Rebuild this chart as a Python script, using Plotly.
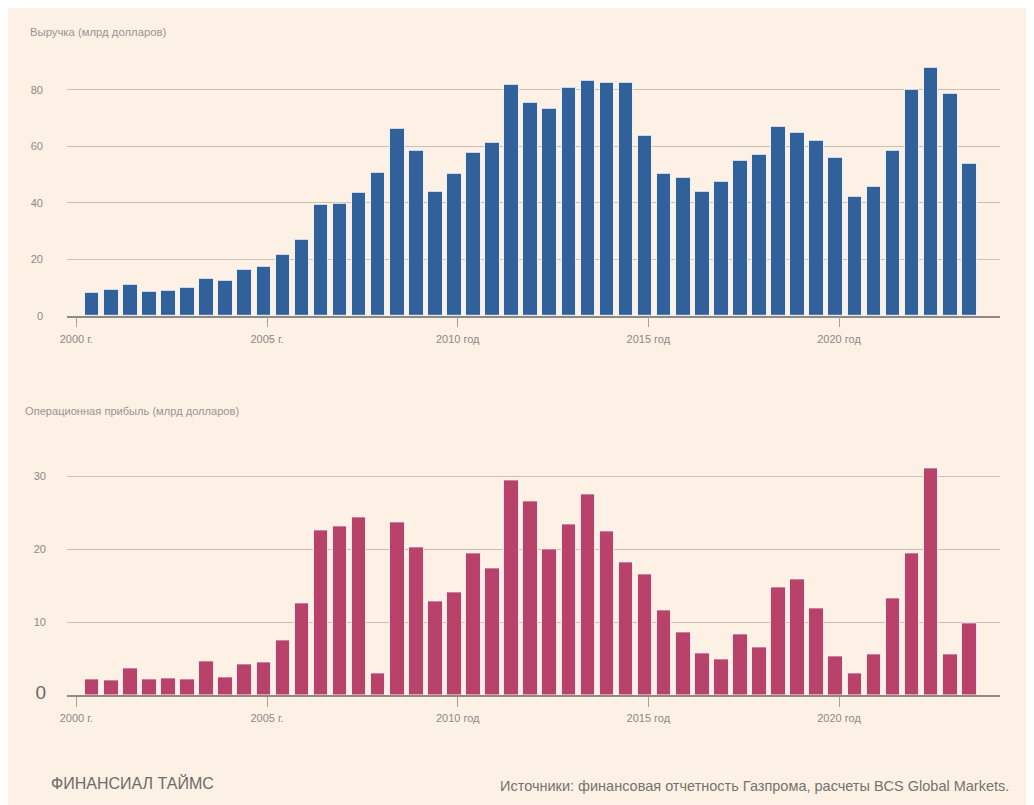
import plotly.graph_objects as go

# ---- data (half-year periods, 2000 H1 .. 2023 H1) ----
first_year = 2000
n_periods = 47

revenue = [8.1, 9.0, 10.8, 8.6, 8.7, 10.0, 13.2, 12.5, 16.1, 17.2,
           21.6, 26.8, 39.3, 39.5, 43.5, 50.6, 66.0, 58.2, 44.0, 50.2,
           57.5, 61.2, 81.7, 75.4, 73.2, 80.6, 83.1, 82.3, 82.5, 63.7,
           50.3, 48.8, 43.7, 47.3, 54.8, 56.9, 67.0, 64.6, 62.0, 55.8,
           42.1, 45.6, 58.5, 79.8, 87.6, 78.5, 53.7]

op_profit = [2.2, 2.1, 3.7, 2.2, 2.3, 2.2, 4.6, 2.4, 4.2, 4.5,
             7.5, 12.6, 22.6, 23.1, 24.3, 3.0, 23.7, 20.2, 12.9, 14.1,
             19.4, 17.4, 29.4, 26.5, 19.9, 23.4, 27.5, 22.4, 18.2, 16.5,
             11.6, 8.6, 5.7, 4.9, 8.3, 6.6, 14.8, 15.8, 11.9, 5.3,
             3.0, 5.6, 13.2, 19.4, 31.0, 5.6, 9.9]

x_tick_years = [2000, 2005, 2010, 2015, 2020]
x_tick_labels = ["2000 г.", "2005 г.", "2010 год", "2015 год", "2020 год"]

rev_ticks = [0, 20, 40, 60, 80]
op_ticks = [0, 10, 20, 30]

title_rev = "Выручка (млрд долларов)"
title_op = "Операционная прибыль (млрд долларов)"
footer_left = "ФИНАНСИАЛ ТАЙМС"
footer_right = "Источники: финансовая отчетность Газпрома, расчеты BCS Global Markets."

# ---- styling ----
BG = "#fdf1e6"
BLUE = "#31619a"
CLARET = "#b8426a"
GRID = "#cbbfb4"
AXIS = "#8f8883"
TXT = "#8e8884"
FONT = "Liberation Sans, Arial, sans-serif"

periods = [f"{first_year + i // 2}-{6 if i % 2 == 0 else 12:02d}-01" for i in range(n_periods)]
tickvals = [f"{y}-01-01" for y in x_tick_years]
bar_width = 140 * 24 * 3600 * 1000  # ms

# page has an 8px body margin; positions below are measured in window pixels
OFF = 8
W, H = 1034, 805
def fx(px):
    return (px - OFF) / W
def fy(py):
    return (H - (py - OFF)) / H

fig = go.Figure()
fig.add_trace(go.Bar(x=periods, y=revenue, marker=dict(color=BLUE, line=dict(color="rgba(245,248,252,0.9)", width=1)),
                     width=bar_width, xaxis="x", yaxis="y", showlegend=False))
fig.add_trace(go.Bar(x=periods, y=op_profit, marker=dict(color=CLARET, line=dict(color="rgba(252,240,245,0.9)", width=1)),
                     width=bar_width, xaxis="x2", yaxis="y2", showlegend=False))

xcommon = dict(type="date", range=["1999-10-04", "2024-03-22"], domain=[fx(67), fx(1000)],
               tickmode="array", tickvals=tickvals, ticktext=x_tick_labels,
               ticks="outside", ticklen=10, tickwidth=1, tickcolor="#a8a19b",
               showline=True, linecolor=AXIS, linewidth=1.5, showgrid=False, zeroline=False,
               tickfont=dict(family=FONT, size=11, color=TXT), automargin=False,
               ticklabelstandoff=2, fixedrange=True)

fig.update_layout(
    width=W, height=H,
    margin=dict(l=0, r=0, t=0, b=0),
    paper_bgcolor=BG, plot_bgcolor="rgba(0,0,0,0)",
    bargap=0,
    font=dict(family=FONT, color=TXT),
    xaxis=dict(anchor="y", **xcommon),
    xaxis2=dict(anchor="y2", **xcommon),
    yaxis=dict(domain=[fy(315.7), fy(55.8)], range=[0, 92], tickmode="array", tickvals=rev_ticks,
               ticktext=[str(v) for v in rev_ticks],
               showgrid=True, gridcolor=GRID, gridwidth=1, zeroline=False, showline=False,
               tickfont=dict(family=FONT, size=11, color=TXT), ticklabelstandoff=23,
               automargin=False, fixedrange=True),
    yaxis2=dict(domain=[fy(695.3), fy(461.4)], range=[0, 32], tickmode="array", tickvals=op_ticks,
                ticktext=['<span style="font-size:19px;color:#666">0</span>'] + [str(v) for v in op_ticks[1:]],
                showgrid=True, gridcolor=GRID, gridwidth=1, zeroline=False, showline=False,
                tickfont=dict(family=FONT, size=11, color=TXT), ticklabelstandoff=20,
                automargin=False, fixedrange=True),
    annotations=[
        dict(text=title_rev, xref="paper", yref="paper", x=fx(28), y=fy(32), xanchor="left", yanchor="middle",
             showarrow=False, font=dict(family=FONT, size=11.3, color="#9a948f")),
        dict(text=title_op, xref="paper", yref="paper", x=fx(23), y=fy(411), xanchor="left", yanchor="middle",
             showarrow=False, font=dict(family=FONT, size=11.1, color="#9a948f")),
        dict(text=footer_left, xref="paper", yref="paper", x=fx(49), y=fy(783), xanchor="left", yanchor="middle",
             showarrow=False, font=dict(family=FONT, size=16, color="#6f6a66")),
        dict(text=footer_right, xref="paper", yref="paper", x=fx(1011), y=fy(786), xanchor="right", yanchor="middle",
             showarrow=False, font=dict(family=FONT, size=14.5, color="#77716c")),
    ],
)

fig.write_html("out.html")
